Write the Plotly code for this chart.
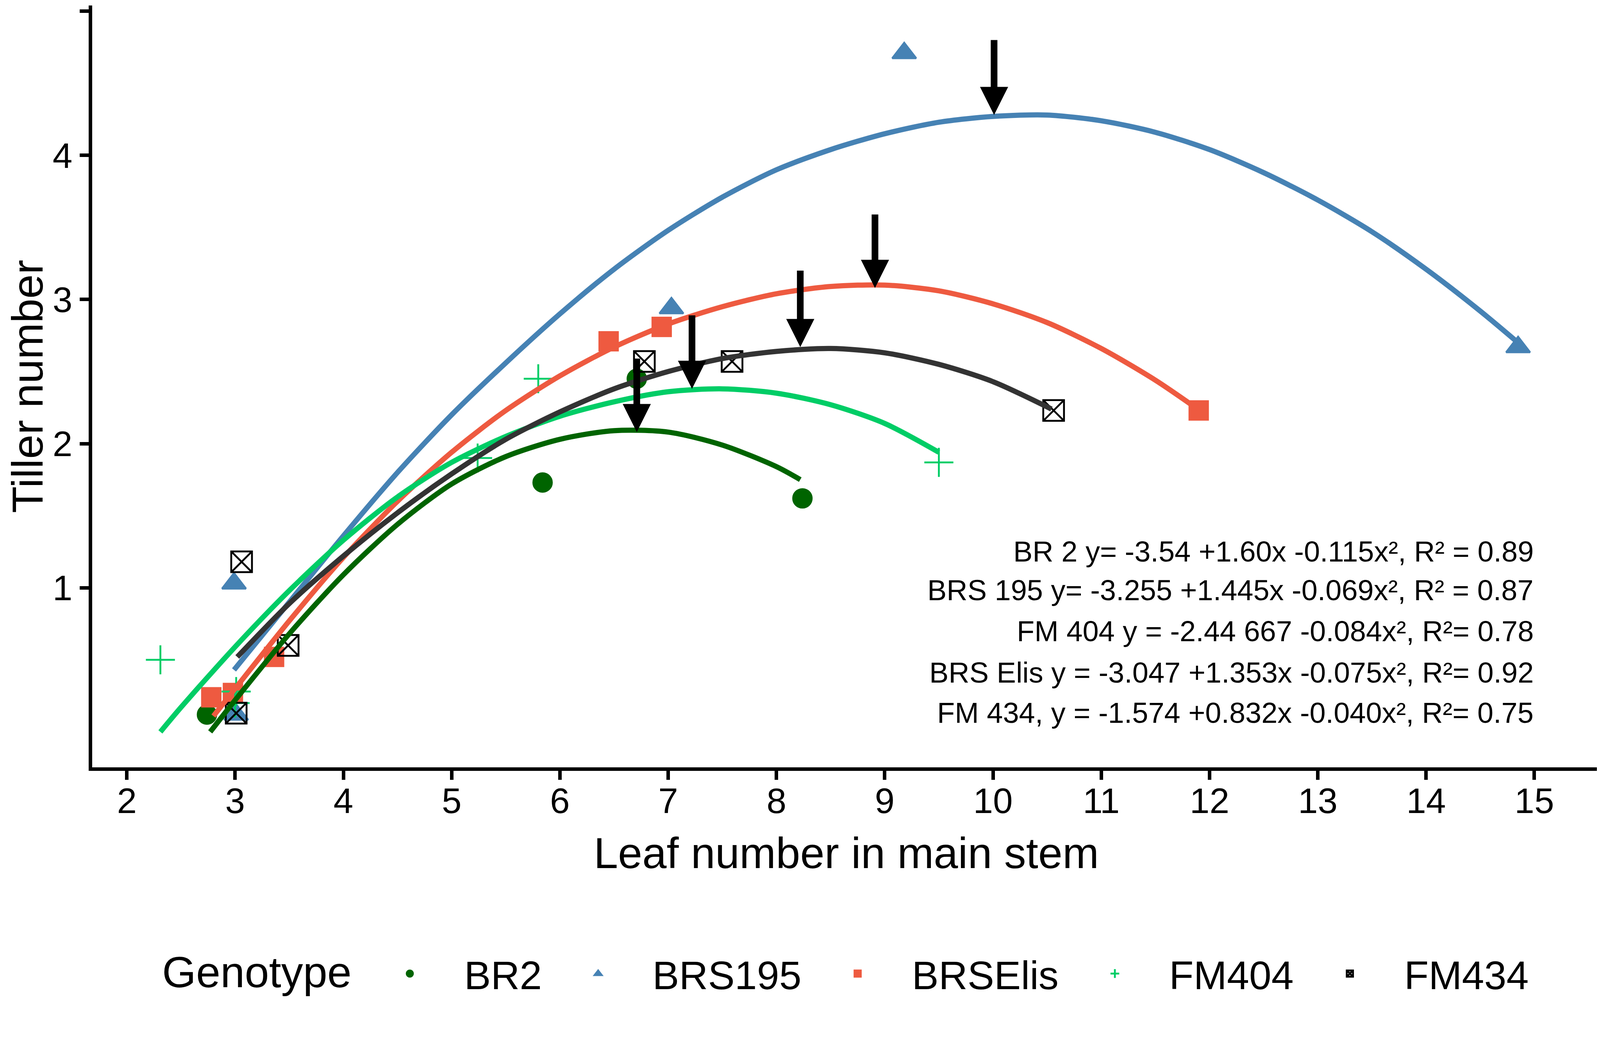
import plotly.graph_objects as go

# --- data ---
genotypes = ["BR2", "BRS195", "BRSElis", "FM404", "FM434"]

# observed points
br2_x = [2.74, 5.84, 6.71, 8.24]
br2_y = [0.12, 1.73, 2.45, 1.62]
brs195_x = [2.99, 3.01, 7.03, 9.18, 14.85]
brs195_y = [1.03, 0.12, 2.94, 4.71, 2.67]
brselis_x = [2.78, 2.98, 3.36, 6.45, 6.94, 11.90]
brselis_y = [0.24, 0.27, 0.52, 2.71, 2.81, 2.23]
fm404_x = [2.31, 3.01, 3.00, 5.24, 5.80, 9.50]
fm404_y = [0.50, 0.28, 0.20, 1.90, 2.45, 1.87]
fm434_x = [3.06, 3.01, 3.49, 6.78, 7.59, 10.56]
fm434_y = [1.18, 0.13, 0.60, 2.57, 2.57, 2.23]

# fitted curves
br2_fit_x = [2.77, 3.0, 3.5, 4.0, 4.5, 5.0, 5.5, 6.0, 6.5, 7.0, 7.5, 8.0, 8.22]
br2_fit_y = [0.00, 0.22, 0.68, 1.09, 1.44, 1.72, 1.91, 2.03, 2.09, 2.08, 1.99, 1.84, 1.75]
brs195_fit_x = [2.99, 3.5, 4.0, 4.5, 5.0, 5.5, 6.0, 6.5, 7.0, 7.5, 8.0, 8.5, 9.0, 9.5,
                10.0, 10.5, 11.0, 11.5, 12.0, 12.5, 13.0, 13.5, 14.0, 14.5, 14.85]
brs195_fit_y = [0.43, 0.90, 1.36, 1.80, 2.20, 2.56, 2.90, 3.21, 3.48, 3.71, 3.90, 4.04, 4.15, 4.23,
                4.27, 4.28, 4.24, 4.16, 4.04, 3.88, 3.69, 3.47, 3.21, 2.92, 2.70]
brselis_fit_x = [2.80, 3.0, 3.5, 4.0, 4.5, 5.0, 5.5, 6.0, 6.5, 7.0, 7.5, 8.0, 8.5, 9.0,
                 9.5, 10.0, 10.5, 11.0, 11.5, 11.89]
brselis_fit_y = [0.11, 0.30, 0.77, 1.21, 1.60, 1.94, 2.23, 2.47, 2.67, 2.83, 2.95, 3.04, 3.09, 3.10,
                 3.06, 2.97, 2.84, 2.66, 2.44, 2.24]
fm404_fit_x = [2.31, 2.5, 3.0, 3.5, 4.0, 4.5, 5.0, 5.5, 6.0, 6.5, 7.0, 7.5, 8.0, 8.5, 9.0, 9.5]
fm404_fit_y = [0.00, 0.17, 0.59, 0.98, 1.33, 1.63, 1.87, 2.05, 2.19, 2.29, 2.36, 2.38, 2.35, 2.27, 2.14, 1.94]
fm434_fit_x = [3.02, 3.5, 4.0, 4.5, 5.0, 5.5, 6.0, 6.5, 7.0, 7.5, 8.0, 8.5, 9.0, 9.5, 10.0, 10.54]
fm434_fit_y = [0.52, 0.89, 1.22, 1.52, 1.79, 2.03, 2.22, 2.38, 2.50, 2.59, 2.64, 2.66, 2.63, 2.55, 2.43, 2.24]

# arrows marking the maximum of each curve
arrow_x = [6.71, 7.22, 8.22, 8.91, 10.01]
arrow_tip = [2.08, 2.38, 2.67, 3.08, 4.28]
arrow_top = [2.59, 2.89, 3.20, 3.59, 4.80]

equations = [
    "BR 2 y= -3.54 +1.60x -0.115x², R² = 0.89",
    "BRS 195 y= -3.255 +1.445x -0.069x², R² = 0.87",
    "FM 404 y = -2.44 667 -0.084x², R²= 0.78",
    "BRS Elis y = -3.047 +1.353x -0.075x², R²= 0.92",
    "FM 434, y = -1.574 +0.832x -0.040x², R²= 0.75",
]
eq_y = [1.252, 0.982, 0.699, 0.411, 0.132]

# --- styling ---
K = 0.948  # page px per reference px
FONT = "Liberation Sans, Arial, sans-serif"
colors = {"BR2": "#006400", "BRS195": "#4682B4", "BRSElis": "#EE5A40",
          "FM404": "#00CD66", "FM434": "#000000"}
line_colors = {"BR2": "#006400", "BRS195": "#4682B4", "BRSElis": "#EE5A40",
               "FM404": "#00CD66", "FM434": "#333333"}
symbols = {"BR2": "circle", "BRS195": "triangle-up", "BRSElis": "square",
           "FM404": "cross-thin", "FM434": "square-x-open"}
sizes = {"BR2": 50, "BRS195": 56, "BRSElis": 50, "FM404": 56, "FM434": 56}

points = {"BR2": (br2_x, br2_y), "BRS195": (brs195_x, brs195_y),
          "BRSElis": (brselis_x, brselis_y), "FM404": (fm404_x, fm404_y),
          "FM434": (fm434_x, fm434_y)}
fits = {"BR2": (br2_fit_x, br2_fit_y), "BRS195": (brs195_fit_x, brs195_fit_y),
        "BRSElis": (brselis_fit_x, brselis_fit_y), "FM404": (fm404_fit_x, fm404_fit_y),
        "FM434": (fm434_fit_x, fm434_fit_y)}

fig = go.Figure()

for g in genotypes:
    px_, py_ = points[g]
    fig.add_trace(go.Scatter(
        x=px_, y=py_, mode="markers", name=g,
        marker=dict(symbol=symbols[g], size=sizes[g] * K, color=colors[g],
                    line=dict(width=5 * K, color=colors[g])),
    ))

for g in genotypes:
    fx, fy = fits[g]
    fig.add_trace(go.Scatter(
        x=fx, y=fy, mode="lines", showlegend=False, hoverinfo="skip",
        line=dict(color=line_colors[g], width=14 * K, shape="spline", smoothing=0.8),
    ))

# arrow shafts + heads
shaft_x, shaft_y = [], []
for ax_, tip, top in zip(arrow_x, arrow_tip, arrow_top):
    shaft_x += [ax_, ax_, None]
    shaft_y += [top, tip + 0.1, None]
fig.add_trace(go.Scatter(x=shaft_x, y=shaft_y, mode="lines", showlegend=False,
                         hoverinfo="skip", line=dict(color="black", width=18 * K)))
fig.add_trace(go.Scatter(x=arrow_x, y=arrow_tip, mode="markers", showlegend=False,
                         hoverinfo="skip",
                         marker=dict(symbol="arrow-down", size=76 * K, color="black",
                                     line=dict(width=0))))

for txt, yy in zip(equations, eq_y):
    fig.add_annotation(x=15.0, y=yy, xref="x", yref="y", text=txt, showarrow=False,
                       xanchor="right", yanchor="middle",
                       font=dict(family=FONT, size=78 * K, color="black"))

# legend title drawn as text so it lines up with the legend keys
fig.add_annotation(x=0.0458, y=-0.269, xref="paper", yref="paper", text="Genotype",
                   showarrow=False, xanchor="left", yanchor="middle",
                   font=dict(family=FONT, size=118 * K, color="black"))

axis_common = dict(showline=True, linecolor="black", linewidth=9 * K, ticks="outside",
                   ticklen=25 * K, tickwidth=9 * K, tickcolor="black", showgrid=False,
                   zeroline=False, automargin=False,
                   tickfont=dict(family=FONT, size=96 * K, color="black"))

fig.update_layout(
    width=4089, height=2559,
    margin=dict(l=228, r=0, t=6, b=598),
    paper_bgcolor="white", plot_bgcolor="white",
    font=dict(family=FONT, color="black"),
    xaxis=dict(range=[1.68, 15.61], tickvals=list(range(2, 16)), ticklabelstandoff=-25,
               title=dict(text="Leaf number in main stem", font=dict(family=FONT, size=118 * K),
                          standoff=49),
               **axis_common),
    yaxis=dict(range=[-0.246, 5.04], tickvals=[1, 2, 3, 4, 5],
               title=dict(text="Tiller number", font=dict(family=FONT, size=118 * K),
                          standoff=94),
               **axis_common),
    legend=dict(orientation="h", x=0.1746, xanchor="left", y=-0.271, yanchor="middle",
                font=dict(family=FONT, size=108 * K), itemwidth=268,
                bgcolor="rgba(0,0,0,0)"),
    showlegend=True,
)

fig.write_html("out.html")
